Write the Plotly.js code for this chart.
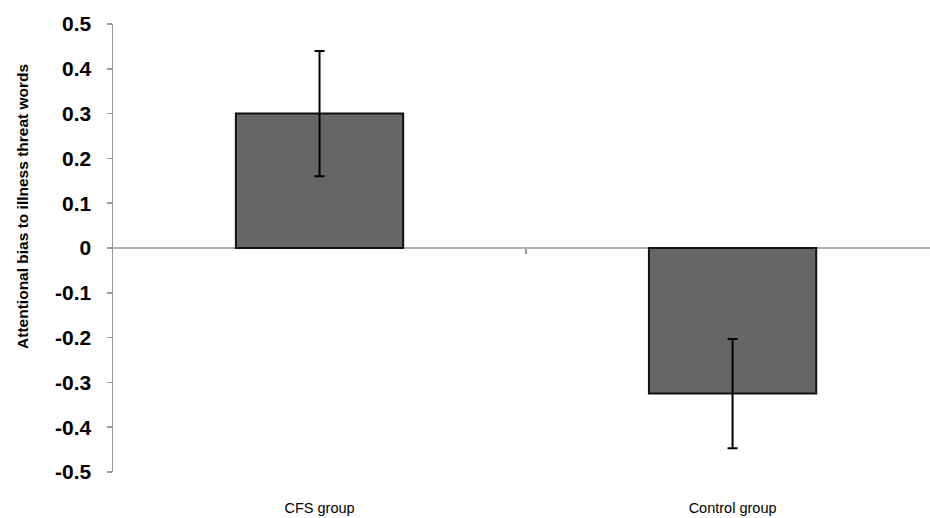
<!DOCTYPE html>
<html>
<head>
<meta charset="utf-8">
<script src="https://cdn.plot.ly/plotly-3.0.1.min.js"></script>
<style>html,body{margin:0;padding:0;background:#fff;}#chart{width:930px;height:518px;}</style>
</head>
<body>
<div id="chart"></div>
<script>
const categories = ["CFS group", "Control group"];
const meanBias = [0.30, -0.325];
const errorSize = [0.14, 0.122];
const yTickVals = [0.5, 0.4, 0.3, 0.2, 0.1, 0, -0.1, -0.2, -0.3, -0.4, -0.5];
const yTickText = ["0.5", "0.4", "0.3", "0.2", "0.1", "0", "-0.1", "-0.2", "-0.3", "-0.4", "-0.5"];
const yTitle = "Attentional bias to illness threat words";

const trace = {
  type: "bar",
  x: categories,
  y: meanBias,
  width: 0.405,
  marker: { color: "#666666", line: { color: "#111111", width: 2 } },
  error_y: { type: "data", array: errorSize, visible: true, color: "#000000", thickness: 2, width: 5 },
  hoverinfo: "none"
};

const layout = {
  width: 930, height: 518,
  margin: { l: 113, r: 0, t: 24, b: 46 },
  paper_bgcolor: "#ffffff", plot_bgcolor: "#ffffff",
  showlegend: false,
  font: { family: "Liberation Sans, Arial, sans-serif", color: "#000" },
  xaxis: {
    type: "category",
    range: [-0.5, 1.478],
    showline: false, showgrid: false, zeroline: false,
    ticks: "",
    ticklabelstandoff: 25,
    tickfont: { size: 14.5, family: "Liberation Sans, Arial, sans-serif" }
  },
  xaxis2: {
    overlaying: "x", anchor: "free", position: 0.5,
    range: [-0.5, 1.478],
    showline: false, showgrid: false, zeroline: false,
    tickmode: "array", tickvals: [0.5], ticktext: [""],
    ticks: "outside", ticklen: 5, tickwidth: 1.5, tickcolor: "#999999",
    showticklabels: false
  },
  yaxis: {
    range: [-0.5, 0.5],
    tickmode: "array", tickvals: yTickVals, ticktext: yTickText,
    showline: true, linecolor: "#999999", linewidth: 1.5,
    ticks: "outside", ticklen: 5, tickwidth: 1.5, tickcolor: "#999999",
    showgrid: false,
    zeroline: true, zerolinecolor: "#b0b0b0", zerolinewidth: 2,
    ticklabelstandoff: 11,
    tickfont: { size: 21, family: "Liberation Sans, Arial, sans-serif", weight: "bold" }
  },
  annotations: [{
    text: "<b>" + yTitle + "</b>",
    xref: "paper", yref: "paper",
    x: -0.110, y: 0.592,
    xanchor: "center", yanchor: "middle",
    textangle: -90, showarrow: false,
    font: { size: 15.5, family: "Liberation Sans, Arial, sans-serif", color: "#000" }
  }]
};

const dummy = { type: "scatter", x: [0.5], y: [0], xaxis: "x2", mode: "markers", marker: { opacity: 0 }, hoverinfo: "none" };

Plotly.newPlot("chart", [trace, dummy], layout, { displayModeBar: false, staticPlot: true });
</script>
</body>
</html>
